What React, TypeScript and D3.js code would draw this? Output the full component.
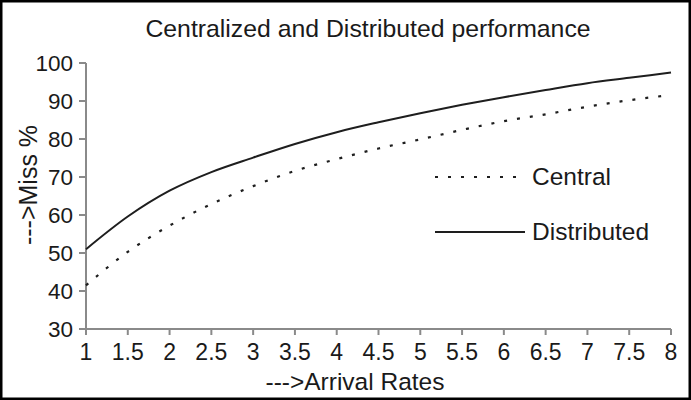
import React from "react";
import * as d3 from "d3";

const arrivalRates = [1, 1.5, 2, 2.5, 3, 3.5, 4, 4.5, 5, 5.5, 6, 6.5, 7, 7.5, 8];
const centralMiss = [41.5, 50.3, 57.2, 62.9, 67.6, 71.6, 74.7, 77.5, 79.9, 82.4, 84.7, 86.5, 88.5, 90.2, 91.6];
const distributedMiss = [51, 59.6, 66.4, 71.3, 75.1, 78.7, 81.8, 84.4, 86.8, 89, 91, 92.9, 94.7, 96.1, 97.5];
const yTicks = [30, 40, 50, 60, 70, 80, 90, 100];
const xTicks = arrivalRates;
const seriesNames = ["Central", "Distributed"];
const titleText = "Centralized and Distributed performance";
const xLabel = "--->Arrival Rates";
const yLabel = "--->Miss %";

const W = 691;
const H = 400;
const FONT = "'Liberation Sans', Arial, sans-serif";

export default function App() {
  const x = d3.scaleLinear().domain([1, 8]).range([86, 671]);
  const y = d3.scaleLinear().domain([30, 100]).range([329, 63]);
  const line = d3
    .line<number>()
    .x((_, i) => x(arrivalRates[i]))
    .y((d) => y(d))
    .curve(d3.curveMonotoneX);
  const axisColor = "#8a8a8a";
  const lineColor = "#1e1e1e";
  const textColor = "#1a1a1a";

  return (
    <svg
      width={W}
      height={H}
      style={{ position: "absolute", left: 0, top: 0, background: "#fff" }}
      fontFamily={FONT}
    >
      <rect x={0} y={0} width={W} height={H} fill="#fff" />
      <rect x={1.25} y={1.25} width={W - 2.5} height={H - 2.5} fill="none" stroke="#000" strokeWidth={2.5} />
      <text x={368} y={37} textAnchor="middle" fontSize={24.8} fill={textColor}>
        {titleText}
      </text>

      {/* y axis */}
      <line x1={x(1)} x2={x(1)} y1={y(100)} y2={y(30)} stroke={axisColor} strokeWidth={2} />
      {yTicks.map((t) => (
        <g key={"y" + t}>
          <line x1={x(1) - 7} x2={x(1)} y1={y(t)} y2={y(t)} stroke={axisColor} strokeWidth={2} />
          <text x={73} y={y(t)} dy="0.36em" textAnchor="end" fontSize={22.5} fill={textColor}>
            {t}
          </text>
        </g>
      ))}

      {/* x axis */}
      <line x1={x(1)} x2={x(8)} y1={y(30)} y2={y(30)} stroke={axisColor} strokeWidth={2} />
      {xTicks.map((t) => (
        <g key={"x" + t}>
          <line x1={x(t)} x2={x(t)} y1={y(30)} y2={y(30) + 6} stroke={axisColor} strokeWidth={2} />
          <text x={x(t)} y={360} textAnchor="middle" fontSize={23} fill={textColor}>
            {t}
          </text>
        </g>
      ))}

      <text x={355} y={390} textAnchor="middle" fontSize={24.5} fill={textColor}>
        {xLabel}
      </text>
      <text
        transform={`translate(37,185) rotate(-90)`}
        textAnchor="middle"
        fontSize={25}
        fill={textColor}
      >
        {yLabel}
      </text>

      {/* series */}
      <path d={line(centralMiss) || ""} fill="none" stroke={lineColor} strokeWidth={2.2} strokeDasharray="3,10" />
      <path d={line(distributedMiss) || ""} fill="none" stroke={lineColor} strokeWidth={2} />

      {/* legend */}
      <line x1={435} x2={520} y1={177} y2={177} stroke={lineColor} strokeWidth={2.2} strokeDasharray="3,10" />
      <text x={532} y={185} fontSize={24.5} fill={textColor}>
        {seriesNames[0]}
      </text>
      <line x1={435} x2={525} y1={232} y2={232} stroke={lineColor} strokeWidth={2} />
      <text x={532} y={240} fontSize={24.5} fill={textColor}>
        {seriesNames[1]}
      </text>
    </svg>
  );
}
